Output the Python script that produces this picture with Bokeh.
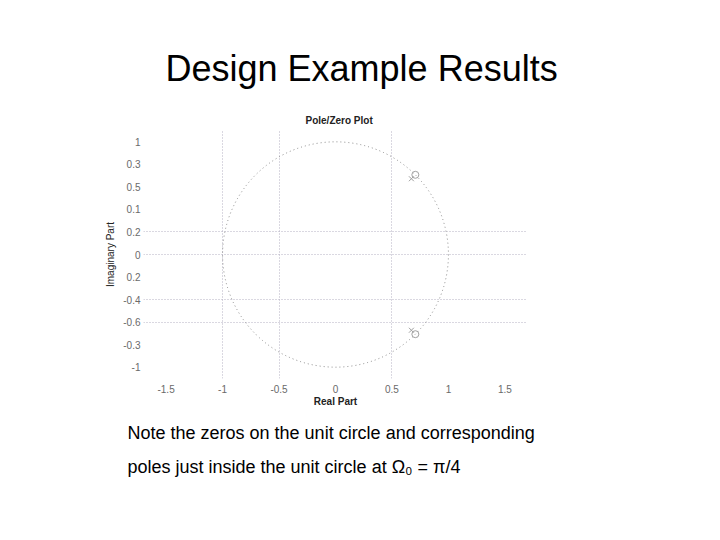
from bokeh.plotting import figure
from bokeh.models import Range1d, FixedTicker, Title
from bokeh.embed import file_html
from bokeh.resources import INLINE

# ---- data ----
x_ticks = [-1.5, -1, -0.5, 0, 0.5, 1, 1.5]
x_tick_labels = ["-1.5", "-1", "-0.5", "0", "0.5", "1", "1.5"]
y_ticks = [1, 0.8, 0.6, 0.4, 0.2, 0, -0.2, -0.4, -0.6, -0.8, -1]
y_tick_labels = ["1", "0.3", "0.5", "0.1", "0.2", "0", "0.2", "-0.4", "-0.6", "-0.3", "-1"]
xgrid_pos = [-1, -0.5, 0.5]
ygrid_pos = [0.2, 0, -0.4, -0.6]
zeros_re = [0.707, 0.707]
zeros_im = [0.707, -0.707]
poles_re = [0.672, 0.672]
poles_im = [0.672, -0.672]
slide_title = "Design Example Results"
plot_title = "Pole/Zero Plot"
note_lines = ["Note the zeros on the unit circle and corresponding",
              "poles just inside the unit circle at Ω\u2080 = π/4"]

W, H = 704, 524
FONT = "Liberation Sans"

p = figure(width=W, height=H, output_backend="svg", toolbar_location=None,
           x_range=Range1d(-1.7, 1.7), y_range=Range1d(-1.1, 1.1),
           min_border_left=143, min_border_right=177,
           min_border_top=130, min_border_bottom=146)
p.outline_line_color = None
p.background_fill_color = "white"
p.border_fill_color = "white"

for ax in (p.xaxis[0], p.yaxis[0]):
    ax.axis_line_color = None
    ax.major_tick_line_color = None
    ax.minor_tick_line_color = None
    ax.major_tick_out = 0
    ax.major_tick_in = 0
    ax.minor_tick_out = 0
    ax.minor_tick_in = 0
    ax.major_label_text_color = "#6a6a6a"
    ax.major_label_text_font = FONT
    ax.major_label_text_font_size = "10px"
    ax.axis_label_text_font = FONT
    ax.axis_label_text_font_size = "10px"
    ax.axis_label_text_color = "#222222"

p.xaxis.ticker = FixedTicker(ticks=x_ticks)
p.xaxis.major_label_overrides = dict(zip(x_ticks, x_tick_labels))
p.xaxis.major_label_standoff = 6
p.xaxis.axis_label = "Real Part"
p.xaxis.axis_label_standoff = 0
p.xaxis.axis_label_text_font_style = "bold"

p.yaxis.ticker = FixedTicker(ticks=y_ticks)
p.yaxis.major_label_overrides = dict(zip(y_ticks, y_tick_labels))
p.yaxis.major_label_standoff = 3
p.yaxis.axis_label = "Imaginary Part"
p.yaxis.axis_label_standoff = 4
p.yaxis.axis_label_text_font_style = "normal"

p.xgrid.ticker = FixedTicker(ticks=xgrid_pos)
p.ygrid.ticker = FixedTicker(ticks=ygrid_pos)
for g in (p.xgrid[0], p.ygrid[0]):
    g.grid_line_color = "#b4b0c2"
    g.grid_line_dash = "1 2"
    g.grid_line_width = 1

# slide title (outermost, the figure's own title)
p.title.text = slide_title
p.title.align = "left"
p.title.offset = 22
p.title.text_font = FONT
p.title.text_font_size = "36px"
p.title.text_font_style = "normal"
p.title.text_color = "black"
p.title.standoff = 37

# plot title (closest to the frame)
p.add_layout(Title(text=plot_title, align="left", offset=162, standoff=10,
                   text_font=FONT, text_font_size="10px",
                   text_font_style="bold", text_color="#222222"), "above")

# note lines (stacked below the x axis)
p.add_layout(Title(text=note_lines[0], align="left", offset=-16, standoff=23,
                   text_font=FONT, text_font_size="18px", text_line_height=0.8,
                   text_font_style="normal", text_color="black"), "below")
p.add_layout(Title(text=note_lines[1], align="left", offset=-16, standoff=0,
                   text_font=FONT, text_font_size="18px", text_line_height=0.8,
                   text_font_style="normal", text_color="black"), "below")

# unit circle
p.ellipse(x=[0], y=[0], width=[2], height=[2], fill_color=None,
          line_color="#8a8a8a", line_dash="1 3", line_width=1)

p.scatter(zeros_re, zeros_im, marker="circle", size=7, fill_color=None,
          line_color="#a0a0a0", line_width=1)
p.scatter(poles_re, poles_im, marker="x", size=7,
          line_color="#a0a0a0", line_width=1)

open("out.html", "w").write(file_html(p, INLINE))
